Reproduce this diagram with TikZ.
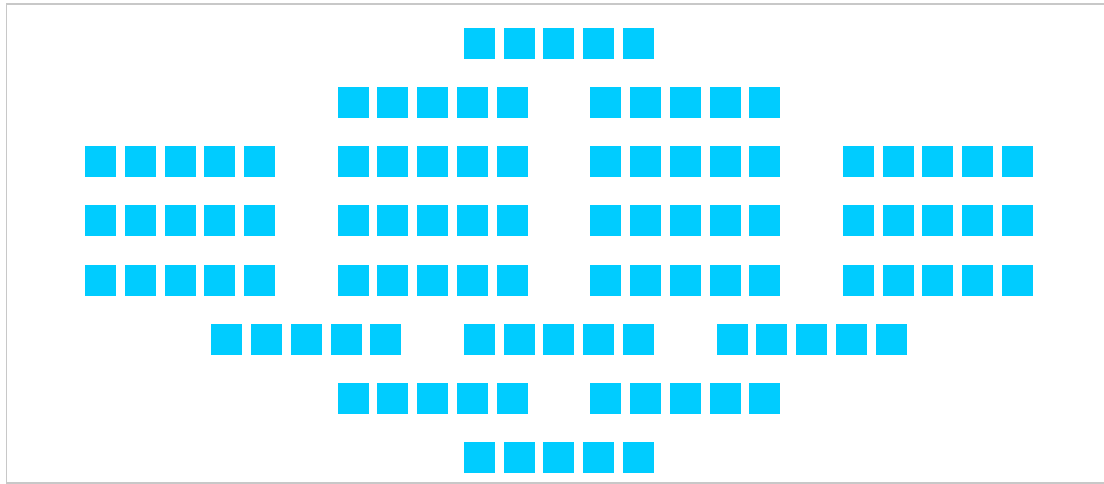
\documentclass[tikz,border=0pt]{standalone}
\definecolor{sqcyan}{HTML}{00CCFF}
\definecolor{frame}{HTML}{C8C8C8}
\tikzset{
  sq/.style={fill=sqcyan, draw=none},
  frameline/.style={draw=frame, line width=1.6pt}
}
\begin{document}
\begin{tikzpicture}[x=1pt,y=-1pt]
\useasboundingbox (0,0) rectangle (1104,484);
\fill[white] (0,0) rectangle (1104,484);
\draw[frameline] (1110,3.8) -- (6.3,3.8) -- (6.3,483.2) -- (1110,483.2);
\foreach \r/\glist in {0/{3},1/{2,4},2/{0,2,4,6},3/{0,2,4,6},4/{0,2,4,6},5/{1,3,5},6/{2,4},7/{3}}{
  \foreach \g in \glist {
    \foreach \k in {0,...,4}{
      \pgfmathsetmacro{\xx}{85+126.33*\g+39.75*\k}
      \pgfmathsetmacro{\yy}{28+59.14*\r}
      \fill[sq] (\xx,\yy) rectangle ++(31,31);
    }
  }
}
\end{tikzpicture}
\end{document}
